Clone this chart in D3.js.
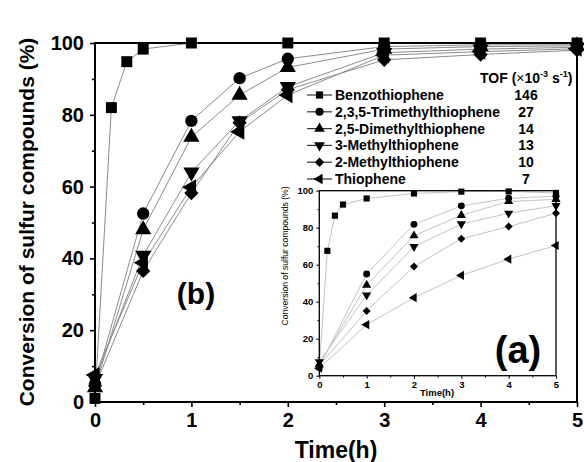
<!DOCTYPE html>
<html>
<head>
<meta charset="utf-8">
<script src="https://cdn.jsdelivr.net/npm/d3@7"></script>
<style>
  html, body { margin: 0; padding: 0; background: #fff; }
  svg { display: block; font-family: "Liberation Sans", Arial, sans-serif; }
</style>
</head>
<body>
<svg id="chart" width="584" height="462"></svg>
<script>
// ---- data ----
const compounds = ["Benzothiophene", "2,3,5-Trimethylthiophene", "2,5-Dimethylthiophene",
                   "3-Methylthiophene", "2-Methylthiophene", "Thiophene"];
const tofValues = ["146", "27", "14", "13", "10", "7"];

// sampling times (h)
const timeFast  = [0, 0.17, 0.33, 0.5, 1, 2, 3, 4, 5];
const timeMain  = [0, 0.5, 1, 1.5, 2, 3, 4, 5];
const timeInset = [0, 1, 2, 3, 4, 5];

// panel (b): conversion (%)
const mainBT  = [1, 82, 94.8, 98.3, 100, 100, 100, 100, 100];
const mainTMT = [5, 52.5, 78.3, 90.2, 95.6, 99, 99.5, 99.5];
const mainDMT = [4, 48, 73.8, 85.5, 93.2, 98.3, 99, 99.2];
const main3MT = [6.5, 40.8, 64, 78.3, 87.8, 97.3, 98.3, 98.8];
const main2MT = [4.5, 36.5, 58.2, 77.8, 87, 95.3, 96.8, 98];
const mainT   = [7.5, 38.8, 59.8, 75.3, 85.5, 96.6, 97.6, 98.4];

// panel (a): conversion (%)
const insetBT  = [4.5, 67.5, 86.5, 92.5, 95.8, 98.5, 99.5, 99.6, 98.8];
const insetTMT = [5, 55, 81.8, 91.8, 95.9, 97];
const insetDMT = [6, 49, 75.7, 86.7, 94.2, 95.3];
const inset3MT = [7.5, 43.5, 69.7, 82, 87.8, 91.9];
const inset2MT = [5.5, 35, 59, 74, 80.6, 87.8];
const insetT   = [4, 27.6, 42.2, 54.2, 63, 70.4];

const xTicks = [0, 1, 2, 3, 4, 5];
const yTicks = [0, 20, 40, 60, 80, 100];

// ---- series tables ----
const mainSeries = [
  { t: timeFast, v: mainBT }, { t: timeMain, v: mainTMT }, { t: timeMain, v: mainDMT },
  { t: timeMain, v: main3MT }, { t: timeMain, v: main2MT }, { t: timeMain, v: mainT }
];
const insetSeries = [
  { t: timeFast, v: insetBT }, { t: timeInset, v: insetTMT }, { t: timeInset, v: insetDMT },
  { t: timeInset, v: inset3MT }, { t: timeInset, v: inset2MT }, { t: timeInset, v: insetT }
];

// marker shape per compound: symbol type, rotation
const shapes = [
  { type: d3.symbolSquare,   rot: 0,   k: 1.0 },
  { type: d3.symbolCircle,   rot: 0,   k: 1.0 },
  { type: d3.symbolTriangle, rot: 0,   k: 0.95 },
  { type: d3.symbolTriangle, rot: 180, k: 0.95 },
  { type: d3.symbolSquare,   rot: 45,  k: 0.85 },
  { type: d3.symbolTriangle, rot: -90, k: 0.95 }
];

const svg = d3.select("#chart");

function marker(g, i, x, y, size) {
  const s = shapes[i];
  g.append("path")
    .attr("d", d3.symbol(s.type, size * s.k)())
    .attr("transform", `translate(${x},${y}) rotate(${s.rot})`)
    .attr("fill", "#000");
}

function drawPanel(opt) {
  const x = d3.scaleLinear().domain([0, 5]).range([opt.x0, opt.x1]);
  const y = d3.scaleLinear().domain([0, 100]).range([opt.y0, opt.y1]);
  const g = svg.append("g");

  // series lines
  const line = d3.line().x(d => x(d[0])).y(d => y(d[1]));
  opt.series.forEach(s => {
    g.append("path")
      .attr("d", line(s.t.map((t, j) => [t, s.v[j]])))
      .attr("fill", "none")
      .attr("stroke", opt.lineColor)
      .attr("stroke-width", opt.lineWidth);
  });

  // markers, drawn from the last series upward so the top curves sit on top
  for (let i = opt.series.length - 1; i >= 0; i--) {
    const s = opt.series[i];
    s.t.forEach((t, j) => marker(g, i, x(t), y(s.v[j]), opt.markerSize));
  }

  // frame
  g.append("rect")
    .attr("x", opt.x0).attr("y", opt.y1)
    .attr("width", opt.x1 - opt.x0).attr("height", opt.y0 - opt.y1)
    .attr("fill", "none").attr("stroke", "#000").attr("stroke-width", opt.frameWidth);

  // bottom axis
  const xAxis = d3.axisBottom(x).tickValues(xTicks).tickFormat(d3.format("d"))
    .tickSize(opt.tickLen).tickPadding(opt.xPad);
  const xa = g.append("g").attr("transform", `translate(0,${opt.y0})`).call(xAxis);
  const xMinor = d3.axisBottom(x).tickValues([0.5, 1.5, 2.5, 3.5, 4.5])
    .tickSize(opt.tickLen * 0.6).tickFormat("");
  g.append("g").attr("transform", `translate(0,${opt.y0})`).call(xMinor)
    .call(a => a.select(".domain").remove())
    .selectAll("line").attr("stroke-width", opt.tickWidth);

  // left axis
  const yAxis = d3.axisLeft(y).tickValues(yTicks).tickFormat(d3.format("d"))
    .tickSize(opt.tickLen).tickPadding(opt.yPad);
  const ya = g.append("g").attr("transform", `translate(${opt.x0},0)`).call(yAxis);
  const yMinor = d3.axisLeft(y).tickValues([10, 30, 50, 70, 90])
    .tickSize(opt.tickLen * 0.6).tickFormat("");
  g.append("g").attr("transform", `translate(${opt.x0},0)`).call(yMinor)
    .call(a => a.select(".domain").remove())
    .selectAll("line").attr("stroke-width", opt.tickWidth);

  [xa, ya].forEach(a => {
    a.select(".domain").remove();
    a.selectAll("line").attr("stroke", "#000").attr("stroke-width", opt.tickWidth);
    a.selectAll("text")
      .attr("fill", "#000")
      .style("font-family", '"Liberation Sans", Arial, sans-serif')
      .style("font-size", opt.tickFont + "px")
      .style("font-weight", "bold");
  });

  return { x, y, g };
}

// ---- panel (b) ----
const main = drawPanel({
  x0: 95, x1: 577, y0: 402, y1: 43,
  series: mainSeries, lineColor: "#8c8c8c", lineWidth: 1, markerSize: 120,
  frameWidth: 2, tickLen: 5, tickWidth: 1.6, tickFont: 20, xPad: 6, yPad: 6
});

svg.append("text")
  .attr("x", 336).attr("y", 458)
  .attr("text-anchor", "middle")
  .style("font-size", "23px").style("font-weight", "bold")
  .text("Time(h)");

svg.append("text")
  .attr("transform", "translate(34,222) rotate(-90)")
  .attr("text-anchor", "middle")
  .style("font-size", "21px").style("font-weight", "bold")
  .text("Conversion of sulfur compounds (%)");

svg.append("text")
  .attr("x", 196).attr("y", 304)
  .attr("text-anchor", "middle")
  .style("font-size", "30px").style("font-weight", "bold")
  .text("(b)");

// ---- legend ----
const legend = svg.append("g");
const legendY = d3.scalePoint().domain(compounds).range([95, 179]);
compounds.forEach((name, i) => {
  const yy = legendY(name);
  legend.append("line")
    .attr("x1", 307).attr("x2", 332).attr("y1", yy).attr("y2", yy)
    .attr("stroke", "#333").attr("stroke-width", 1.2);
  marker(legend, i, 319.5, yy, 52);
  legend.append("text")
    .attr("x", 335).attr("y", yy + 5)
    .style("font-size", "14px").style("font-weight", "bold")
    .text(name);
  legend.append("text")
    .attr("x", 526).attr("y", yy + 5)
    .attr("text-anchor", "middle")
    .style("font-size", "14px").style("font-weight", "bold")
    .text(tofValues[i]);
});
const tof = legend.append("text")
  .attr("x", 480).attr("y", 83)
  .style("font-size", "14px").style("font-weight", "bold");
tof.append("tspan").text("TOF (");
tof.append("tspan").style("font-weight", "normal").text("\u00d7");
tof.append("tspan").text("10");
tof.append("tspan").attr("dy", -6).style("font-size", "9px").text("-3");
tof.append("tspan").attr("dy", 6).text(" s");
tof.append("tspan").attr("dy", -6).style("font-size", "9px").text("-1");
tof.append("tspan").attr("dy", 6).text(")");

// ---- panel (a) inset ----
const inset = drawPanel({
  x0: 319.3, x1: 556, y0: 375.7, y1: 190.7,
  series: insetSeries, lineColor: "#c4c4c4", lineWidth: 1, markerSize: 38,
  frameWidth: 1.3, tickLen: 3, tickWidth: 1, tickFont: 9.5, xPad: 3, yPad: 3
});

svg.append("text")
  .attr("x", 437).attr("y", 396)
  .attr("text-anchor", "middle")
  .style("font-size", "9.5px").style("font-weight", "bold")
  .text("Time(h)");

svg.append("text")
  .attr("transform", "translate(288,256) rotate(-90)")
  .attr("text-anchor", "middle")
  .style("font-size", "8.6px")
  .text("Conversion of sulfur compounds (%)");

svg.append("text")
  .attr("x", 518).attr("y", 363)
  .attr("text-anchor", "middle")
  .style("font-size", "38px").style("font-weight", "bold")
  .text("(a)");
</script>
</body>
</html>
